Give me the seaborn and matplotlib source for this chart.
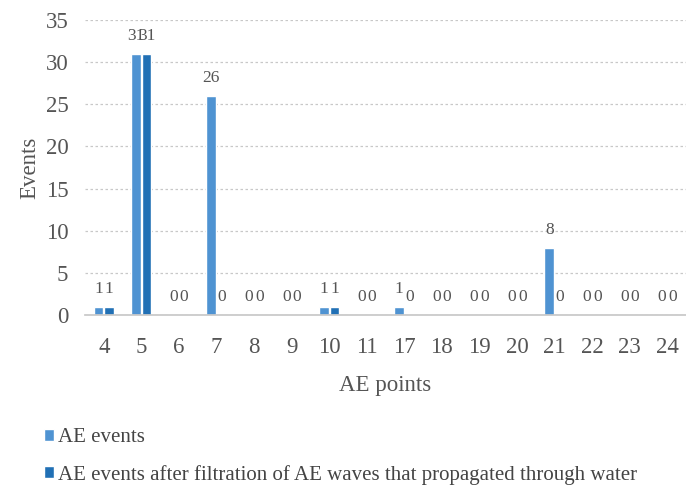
import matplotlib
matplotlib.use("Agg")
import matplotlib.pyplot as plt
import seaborn as sns
import pandas as pd
from matplotlib.patches import Patch

categories = ["4", "5", "6", "7", "8", "9", "10", "11", "17", "18", "19", "20", "21", "22", "23", "24"]
ae_events = [1, 31, 0, 26, 0, 0, 1, 0, 1, 0, 0, 0, 8, 0, 0, 0]
ae_filtered = [1, 31, 0, 0, 0, 0, 1, 0, 0, 0, 0, 0, 0, 0, 0, 0]
series_names = ["AE events", "AE events after filtration of AE waves that propagated through water"]
colors = ["#4f93d2", "#2170b5"]

df = pd.DataFrame({
    "point": categories * 2,
    "value": ae_events + ae_filtered,
    "series": [series_names[0]] * len(categories) + [series_names[1]] * len(categories),
})

sns.set_theme(style="white")
plt.rcParams["font.family"] = ["Liberation Serif", "DejaVu Serif"]

fig = plt.figure(figsize=(6.86, 4.87), dpi=100)
ax = fig.add_axes([85/686, 1-315/487, (686-85)/686, (315-20)/487])

sns.barplot(data=df, x="point", y="value", hue="series", order=categories,
            hue_order=series_names, palette=colors, width=0.56, gap=0.08,
            ax=ax, legend=False, saturation=1)

ax.set_ylim(0, 35)
ax.set_xlim(-0.5, 15.5)
ax.set_yticks(range(0, 36, 5))
ax.yaxis.grid(True, linestyle=(0, (2, 2)), color="#c8c8c8", linewidth=0.9)
ax.set_axisbelow(True)
for s in ["top", "right", "left"]:
    ax.spines[s].set_visible(False)
ax.spines["bottom"].set_color("#c8c8c8")
ax.tick_params(axis="both", length=0, labelsize=16.5, colors="#555555")
ax.tick_params(axis="x", pad=16)
ax.tick_params(axis="y", pad=12)
ax.set_xlabel("AE points", fontsize=16.5, color="#555555", labelpad=12)
ax.set_ylabel("Events", fontsize=16.5, color="#555555", labelpad=4)

for cont in ax.containers:
    ax.bar_label(cont, fmt="%d", padding=7, fontsize=12.5, color="#555555")

handles = [Patch(facecolor=c, label=n) for c, n in zip(colors, series_names)]
fig.legend(handles=handles, loc="upper left", bbox_to_anchor=(0.052, 0.138),
           frameon=False, fontsize=15, labelcolor="#444444", handlelength=0.5,
           handleheight=0.5, handletextpad=0.15, labelspacing=0.85, borderaxespad=0)

fig.savefig("out.png", dpi=100)
